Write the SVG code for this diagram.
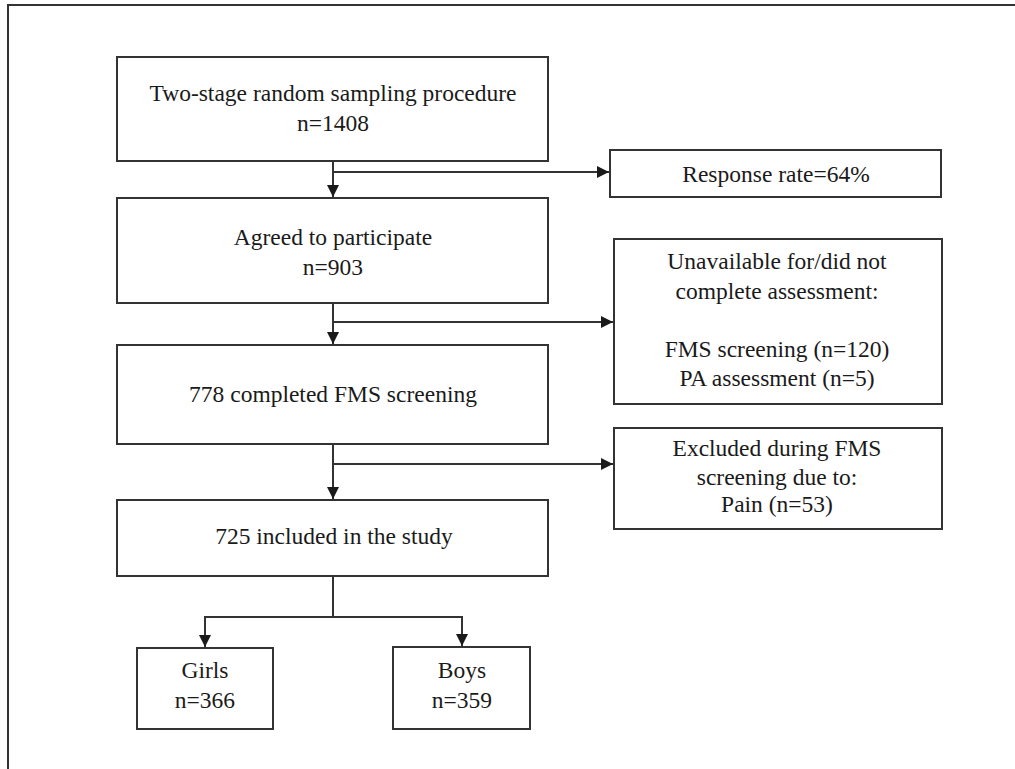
<svg xmlns="http://www.w3.org/2000/svg" width="1015" height="769" viewBox="0 0 1015 769">
<style>
.box{fill:#fff;stroke:#333;stroke-width:2}
.ln{fill:none;stroke:#333;stroke-width:2}
text{font-family:"Liberation Serif","Times New Roman",serif;font-size:23.5px;fill:#1a1a1a;text-anchor:middle}
</style>
<defs>
<marker id="ah" viewBox="0 0 10 10" refX="10" refY="5" markerWidth="6" markerHeight="6" markerUnits="strokeWidth" orient="auto">
<path d="M0,0 L10,5 L0,10 z" fill="#1a1a1a"/>
</marker>
</defs>
<rect width="1015" height="769" fill="#fff"/>
<path d="M8,769 V5 H1015" class="ln" stroke-width="1.5"/>
<g id="n1"><rect class="box" x="117" y="57" width="431" height="104"/><text x="333" y="101">Two-stage random sampling procedure</text><text x="333" y="131">n=1408</text></g>
<g id="n2"><rect class="box" x="610" y="150" width="331" height="47"/><text x="776" y="182">Response rate=64%</text></g>
<g id="n3"><rect class="box" x="117" y="198" width="431" height="105"/><text x="333" y="245">Agreed to participate</text><text x="333" y="275">n=903</text></g>
<g id="n4"><rect class="box" x="614" y="239" width="328" height="165"/><text x="777" y="269">Unavailable for/did not</text><text x="777" y="299">complete assessment:</text><text x="777" y="357">FMS screening (n=120)</text><text x="777" y="386">PA assessment (n=5)</text></g>
<g id="n5"><rect class="box" x="117" y="345" width="431" height="99"/><text x="333" y="402">778 completed FMS screening</text></g>
<g id="n6"><rect class="box" x="614" y="428" width="328" height="101"/><text x="777" y="456">Excluded during FMS</text><text x="777" y="485">screening due to:</text><text x="777" y="512">Pain (n=53)</text></g>
<g id="n7"><rect class="box" x="117" y="500" width="431" height="76"/><text x="334" y="544">725 included in the study</text></g>
<g id="n8"><rect class="box" x="137" y="648" width="136" height="81"/><text x="205" y="678">Girls</text><text x="205" y="708">n=366</text></g>
<g id="n9"><rect class="box" x="393" y="647" width="137" height="82"/><text x="462" y="678">Boys</text><text x="462" y="708">n=359</text></g>
<g id="connectors">
<path class="ln" d="M333,161 V197" marker-end="url(#ah)"/>
<path class="ln" d="M333,172 H609" marker-end="url(#ah)"/>
<path class="ln" d="M333,303 V344" marker-end="url(#ah)"/>
<path class="ln" d="M333,322 H613" marker-end="url(#ah)"/>
<path class="ln" d="M333,444 V499" marker-end="url(#ah)"/>
<path class="ln" d="M333,464 H613" marker-end="url(#ah)"/>
<path class="ln" d="M333,576 V617"/>
<path class="ln" d="M205,617 H462"/>
<path class="ln" d="M205,616 V647" marker-end="url(#ah)"/>
<path class="ln" d="M462,616 V646" marker-end="url(#ah)"/>
</g>
</svg>
